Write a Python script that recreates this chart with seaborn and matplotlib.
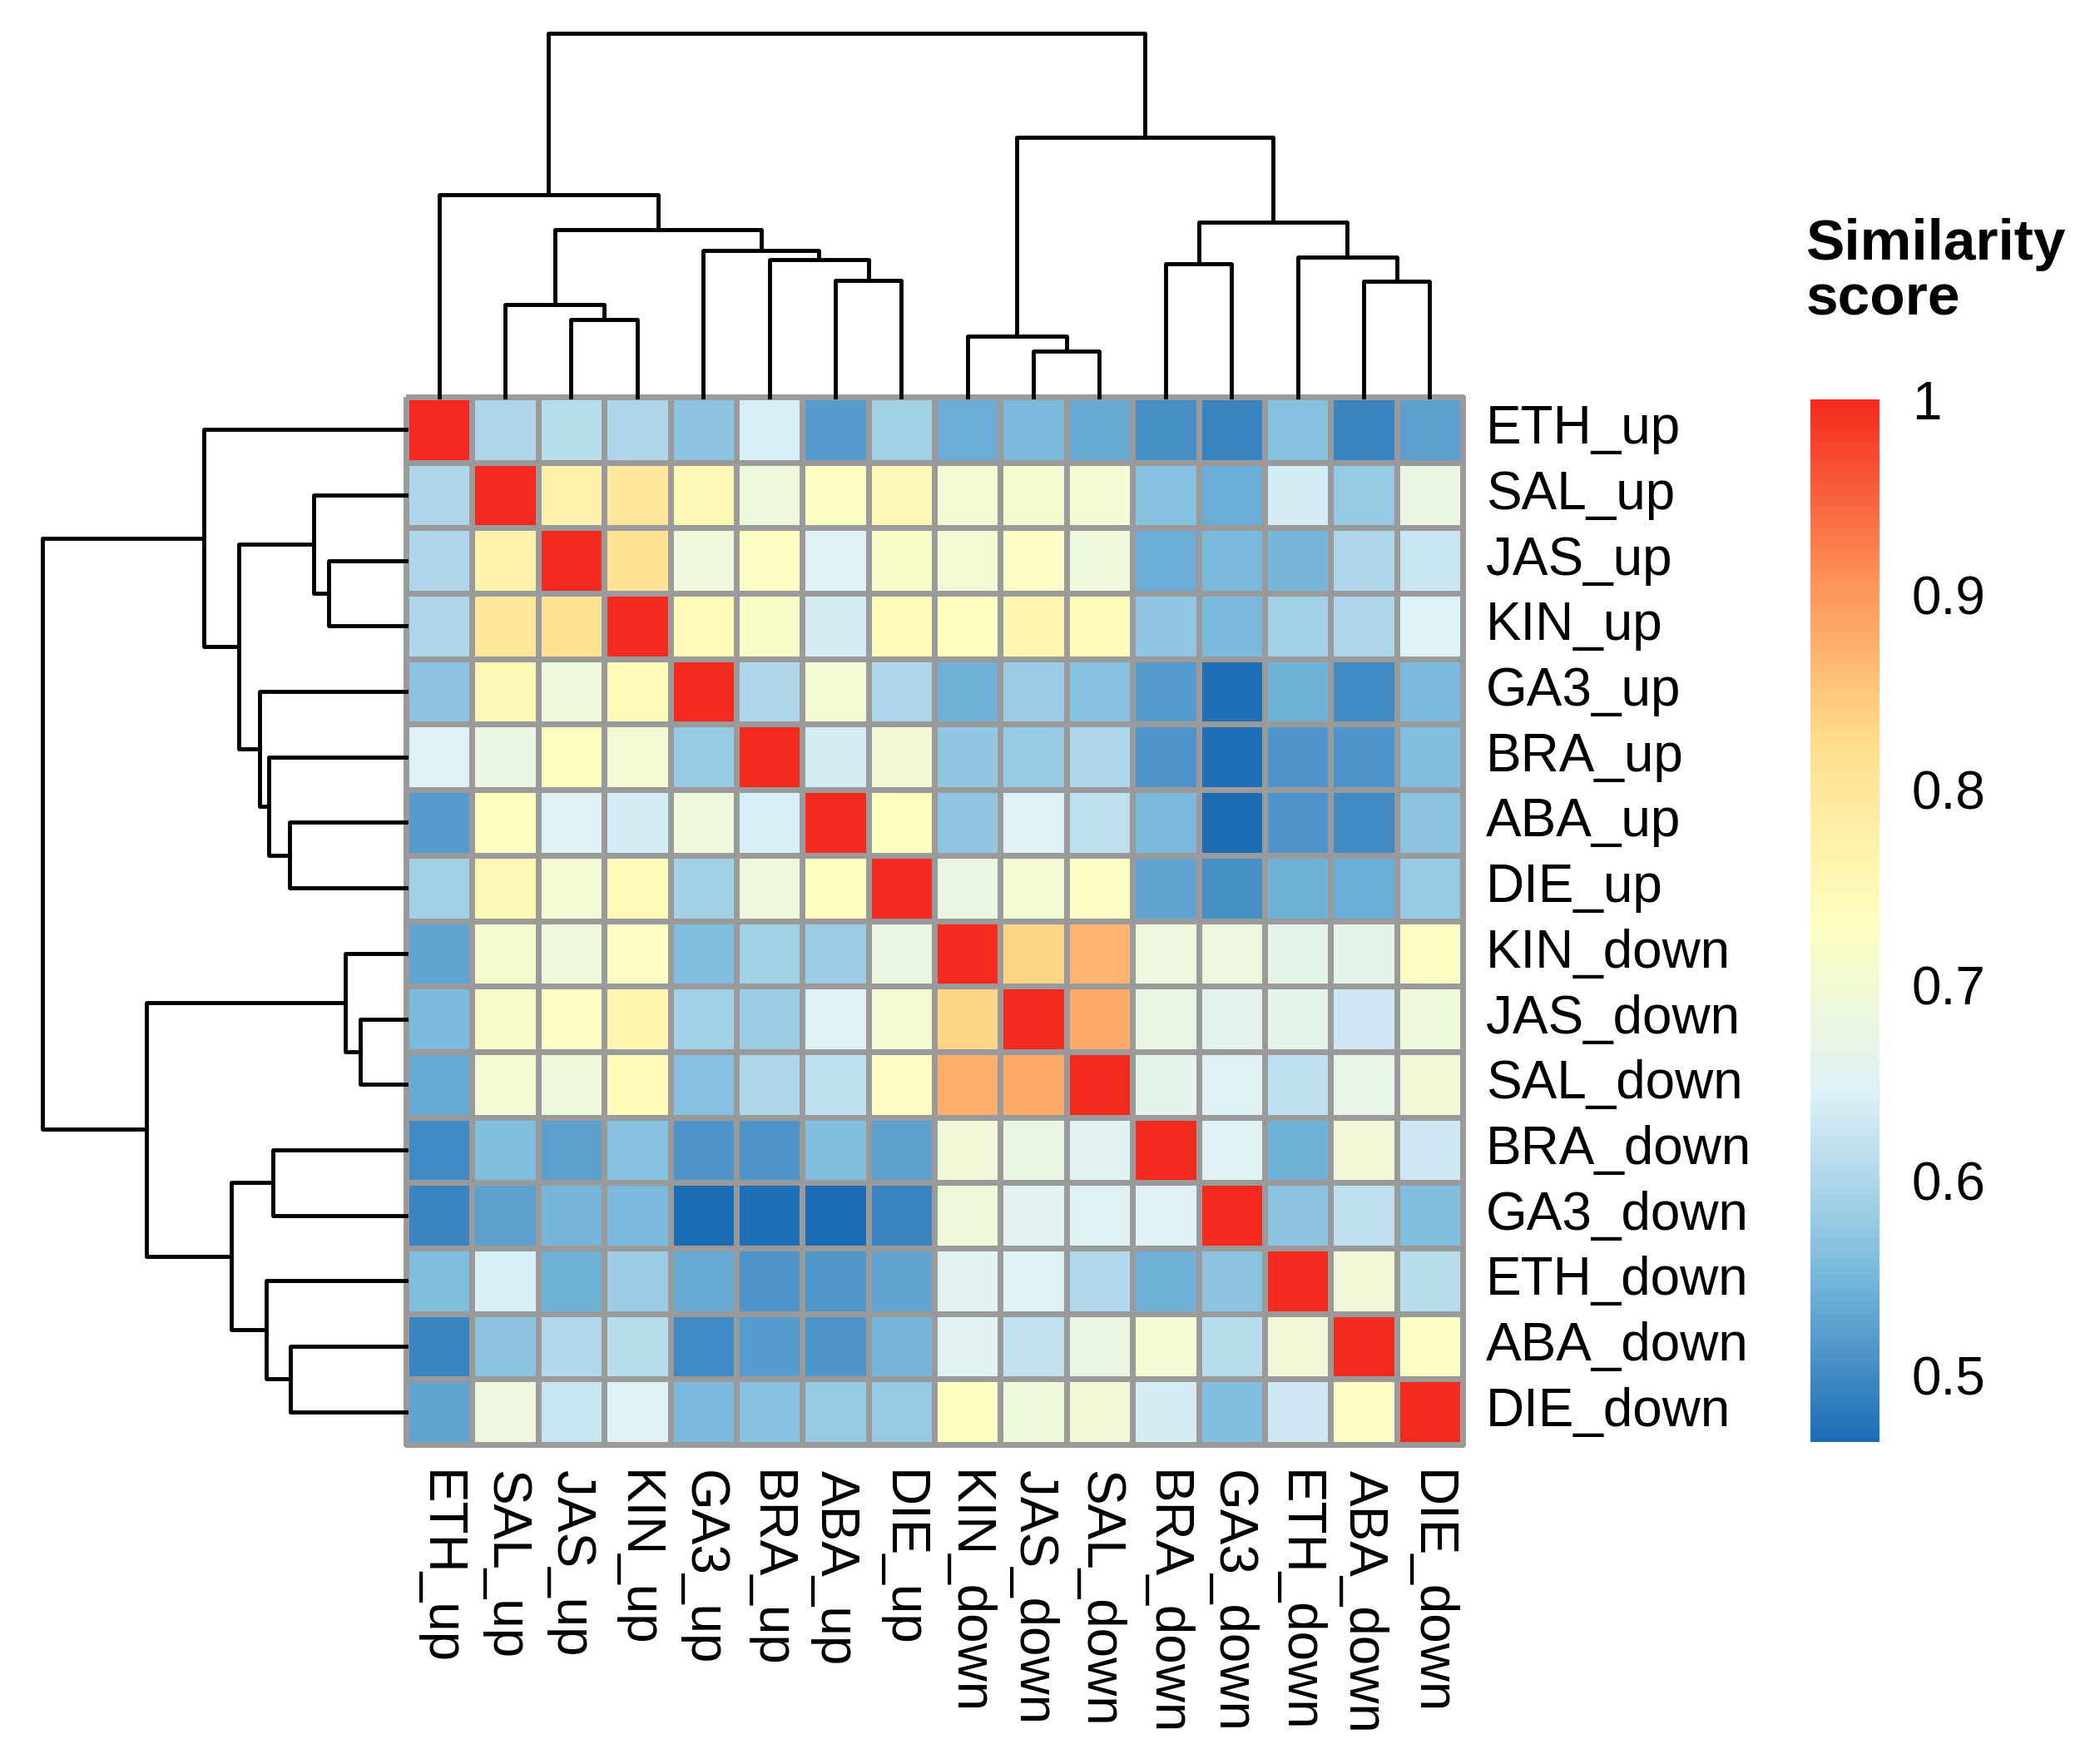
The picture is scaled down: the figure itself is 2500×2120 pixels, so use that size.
import matplotlib
matplotlib.use("Agg")
import matplotlib.pyplot as plt
import pandas as pd
import seaborn as sns
from matplotlib.colors import LinearSegmentedColormap

# Rótulos na ordem do agrupamento (linhas e colunas)
labels = ["ETH_up", "SAL_up", "JAS_up", "KIN_up", "GA3_up", "BRA_up", "ABA_up", "DIE_up",
          "KIN_down", "JAS_down", "SAL_down", "BRA_down", "GA3_down", "ETH_down", "ABA_down", "DIE_down"]

# Matriz de similaridade
scores = [
    [1.00, 0.60, 0.61, 0.60, 0.57, 0.64, 0.52, 0.59, 0.54, 0.555, 0.535, 0.505, 0.495, 0.565, 0.495, 0.525],
    [0.60, 1.00, 0.77, 0.80, 0.755, 0.69, 0.73, 0.755, 0.705, 0.71, 0.705, 0.565, 0.54, 0.635, 0.58, 0.68],
    [0.60, 0.77, 1.00, 0.81, 0.69, 0.73, 0.645, 0.72, 0.70, 0.725, 0.69, 0.54, 0.555, 0.55, 0.60, 0.625],
    [0.60, 0.80, 0.81, 1.00, 0.745, 0.72, 0.635, 0.74, 0.735, 0.76, 0.745, 0.575, 0.555, 0.59, 0.60, 0.645],
    [0.57, 0.755, 0.69, 0.745, 1.00, 0.60, 0.70, 0.60, 0.545, 0.585, 0.565, 0.52, 0.47, 0.545, 0.50, 0.555],
    [0.645, 0.68, 0.735, 0.70, 0.58, 1.00, 0.635, 0.695, 0.575, 0.58, 0.60, 0.51, 0.47, 0.51, 0.51, 0.56],
    [0.52, 0.735, 0.645, 0.635, 0.69, 0.64, 1.00, 0.735, 0.575, 0.645, 0.615, 0.555, 0.466, 0.51, 0.50, 0.57],
    [0.59, 0.755, 0.705, 0.745, 0.59, 0.69, 0.735, 1.00, 0.68, 0.705, 0.725, 0.53, 0.505, 0.545, 0.54, 0.58],
    [0.53, 0.71, 0.69, 0.725, 0.56, 0.59, 0.585, 0.68, 1.00, 0.835, 0.87, 0.685, 0.685, 0.665, 0.665, 0.73],
    [0.555, 0.715, 0.725, 0.76, 0.59, 0.585, 0.645, 0.705, 0.835, 1.00, 0.88, 0.675, 0.66, 0.665, 0.63, 0.69],
    [0.535, 0.705, 0.69, 0.74, 0.565, 0.60, 0.615, 0.725, 0.875, 0.88, 1.00, 0.665, 0.65, 0.615, 0.67, 0.695],
    [0.50, 0.56, 0.525, 0.565, 0.51, 0.51, 0.56, 0.525, 0.695, 0.675, 0.655, 1.00, 0.65, 0.545, 0.695, 0.63],
    [0.495, 0.525, 0.55, 0.555, 0.466, 0.47, 0.466, 0.495, 0.69, 0.655, 0.65, 0.645, 1.00, 0.57, 0.615, 0.56],
    [0.56, 0.64, 0.545, 0.585, 0.535, 0.51, 0.515, 0.53, 0.655, 0.65, 0.605, 0.545, 0.57, 1.00, 0.695, 0.61],
    [0.495, 0.57, 0.605, 0.61, 0.50, 0.52, 0.51, 0.55, 0.655, 0.62, 0.68, 0.705, 0.61, 0.695, 1.00, 0.725],
    [0.53, 0.685, 0.625, 0.645, 0.555, 0.565, 0.58, 0.58, 0.735, 0.69, 0.695, 0.635, 0.56, 0.63, 0.725, 1.00],
]

# Fusões do dendrograma (índices < 16 são folhas, os demais são fusões anteriores)
merge_left = [2, 1, 6, 5, 4, 17, 0, 9, 8, 11, 14, 13, 25, 24, 22]
merge_right = [3, 16, 7, 18, 19, 20, 21, 10, 23, 12, 15, 26, 27, 28, 29]
merge_height = [0.212, 0.255, 0.320, 0.378, 0.402, 0.461, 0.556,
                0.126, 0.166, 0.366, 0.318, 0.385, 0.481, 0.713, 1.0]

cbar_ticks = [0.5, 0.6, 0.7, 0.8, 0.9, 1.0]
cbar_labels = ["0.5", "0.6", "0.7", "0.8", "0.9", "1"]

sns.set_theme(style="white")
plt.rcParams["font.family"] = ["Liberation Sans", "DejaVu Sans"]
plt.rcParams["text.color"] = "black"
plt.rcParams["xtick.color"] = "black"
plt.rcParams["ytick.color"] = "black"

df = pd.DataFrame(scores, index=labels, columns=labels)

# Paleta estilo pheatmap (RdYlBu invertida, mais saturada)
cmap = LinearSegmentedColormap.from_list(
    "sim", ["#1D6DB5", "#7CBBDD", "#DDF1F7", "#FEFEBF", "#FEDF8E", "#FD8F57", "#F42A1E"])

fig = plt.figure(figsize=(25, 21.2), dpi=100)
W, H = 2500, 2120


def box(x0, y0, x1, y1):
    return [x0 / W, 1 - y1 / H, (x1 - x0) / W, (y1 - y0) / H]


ax = fig.add_axes(box(488, 477, 1758, 1736))
ax_top = fig.add_axes(box(488, 40, 1758, 477))
ax_left = fig.add_axes(box(51, 477, 488, 1736))
cax = fig.add_axes(box(2176, 480, 2259, 1733))

sns.heatmap(df, ax=ax, cmap=cmap, vmin=df.values.min(), vmax=1.0,
            linewidths=3.8, linecolor="#9a9a9a", cbar_ax=cax)
ax.collections[0].set_clip_on(False)

# Rótulos das linhas à direita
ax.yaxis.tick_right()
ax.set_yticks([i + 0.5 for i in range(len(labels))])
ax.set_yticklabels(labels, rotation=0, fontsize=46, ha="left", va="center")
ax.set_xticks([i + 0.5 for i in range(len(labels))])
ax.set_xticklabels(labels, rotation=270, fontsize=46, ha="center", va="top")
ax.tick_params(axis="both", length=0, labelcolor="black")
ax.tick_params(axis="y", pad=20)
ax.tick_params(axis="x", pad=22)
ax.set_xlabel("")
ax.set_ylabel("")

# Barra de cores
cbar = ax.collections[0].colorbar
cbar.set_ticks(cbar_ticks)
cbar.set_ticklabels(cbar_labels)
cbar.ax.tick_params(length=0, labelsize=46, pad=28, labelcolor="black")
cbar.outline.set_visible(False)

fig.text(2171 / W, 1 - 262 / H, "Similarity\nscore", fontsize=50, fontweight="bold",
         color="black", ha="left", va="top", linespacing=1.05)


# Dendrogramas
def draw_tree(tax, side):
    n = len(labels)
    pos = {i: i + 0.5 for i in range(n)}
    hgt = {i: 0.0 for i in range(n)}
    node = n
    for a, b, h in zip(merge_left, merge_right, merge_height):
        p = [pos[a], pos[a], pos[b], pos[b]]
        q = [hgt[a], h, h, hgt[b]]
        if side == "top":
            tax.plot(p, q, color="black", lw=3.5, clip_on=False, solid_capstyle="projecting")
        else:
            tax.plot(q, p, color="black", lw=3.5, clip_on=False, solid_capstyle="projecting")
        pos[node] = (pos[a] + pos[b]) / 2
        hgt[node] = h
        node += 1


draw_tree(ax_top, "top")
ax_top.set_xlim(0, len(labels))
ax_top.set_ylim(0, max(merge_height))
draw_tree(ax_left, "left")
ax_left.set_ylim(len(labels), 0)
ax_left.set_xlim(max(merge_height), 0)
for a in (ax_top, ax_left):
    a.axis("off")

fig.savefig("out.png", dpi=100, facecolor="white")
